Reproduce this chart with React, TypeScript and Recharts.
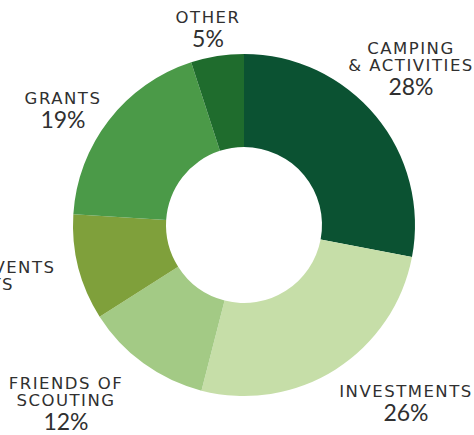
import React from "react";
import { PieChart, Pie, Cell } from "recharts";

const categories = [
  "CAMPING\n& ACTIVITIES",
  "INVESTMENTS",
  "FRIENDS OF\nSCOUTING",
  "SPECIAL EVENTS\n& GIFTS",
  "GRANTS",
  "OTHER",
];
const shares = [28, 26, 12, 10, 19, 5];
const colors = ["#0b5232", "#c6dea8", "#a3ca85", "#7fa03b", "#4b9a48", "#1f6c2d"];

// label block anchor relative to pie centre (layout only)
const labelOffsets = [
  { dx: 167, dy: -171 },
  { dx: 162, dy: 172 },
  { dx: -178, dy: 164 },
  { dx: -268, dy: 48 },
  { dx: -181, dy: -121 },
  { dx: -36, dy: -202 },
];

const data = categories.map((c, i) => ({ name: c, value: shares[i] }));

const W = 474;
const H = 435;
const CX = 244;
const CY = 225;

const renderLabel = (props: any) => {
  const { index, cx, cy, payload } = props;
  const off = labelOffsets[index];
  const x = cx + off.dx;
  const y0 = cy + off.dy;
  const lines: string[] = String(payload.name).split("\n");
  const pctY = y0 + (lines.length - 1) * 17 + 24;
  return (
    <g key={`lbl-${index}`}>
      {lines.map((ln, k) => (
        <text
          key={k}
          x={x}
          y={y0 + k * 17}
          textAnchor="middle"
          fill="#303030"
          fontFamily="'DejaVu Sans', sans-serif"
          fontSize={16.5}
          letterSpacing={1.5}
        >
          {ln}
        </text>
      ))}
      <text
        x={x}
        y={pctY}
        textAnchor="middle"
        fill="#303030"
        fontFamily="Lato, sans-serif"
        fontSize={23}
      >
        {`${payload.value}%`}
      </text>
    </g>
  );
};

export default function App() {
  return (
    <div style={{ position: "absolute", left: 0, top: 0, width: W, height: H, background: "#fff" }}>
      <PieChart width={W} height={H} margin={{ top: 0, right: 0, bottom: 0, left: 0 }}>
        <Pie
          data={data}
          dataKey="value"
          nameKey="name"
          cx={CX}
          cy={CY}
          innerRadius={78}
          outerRadius={171}
          startAngle={90}
          endAngle={-270}
          stroke="none"
          label={renderLabel}
          labelLine={false}
          isAnimationActive={false}
        >
          {data.map((d, i) => (
            <Cell key={d.name} fill={colors[i]} />
          ))}
        </Pie>
      </PieChart>
    </div>
  );
}
